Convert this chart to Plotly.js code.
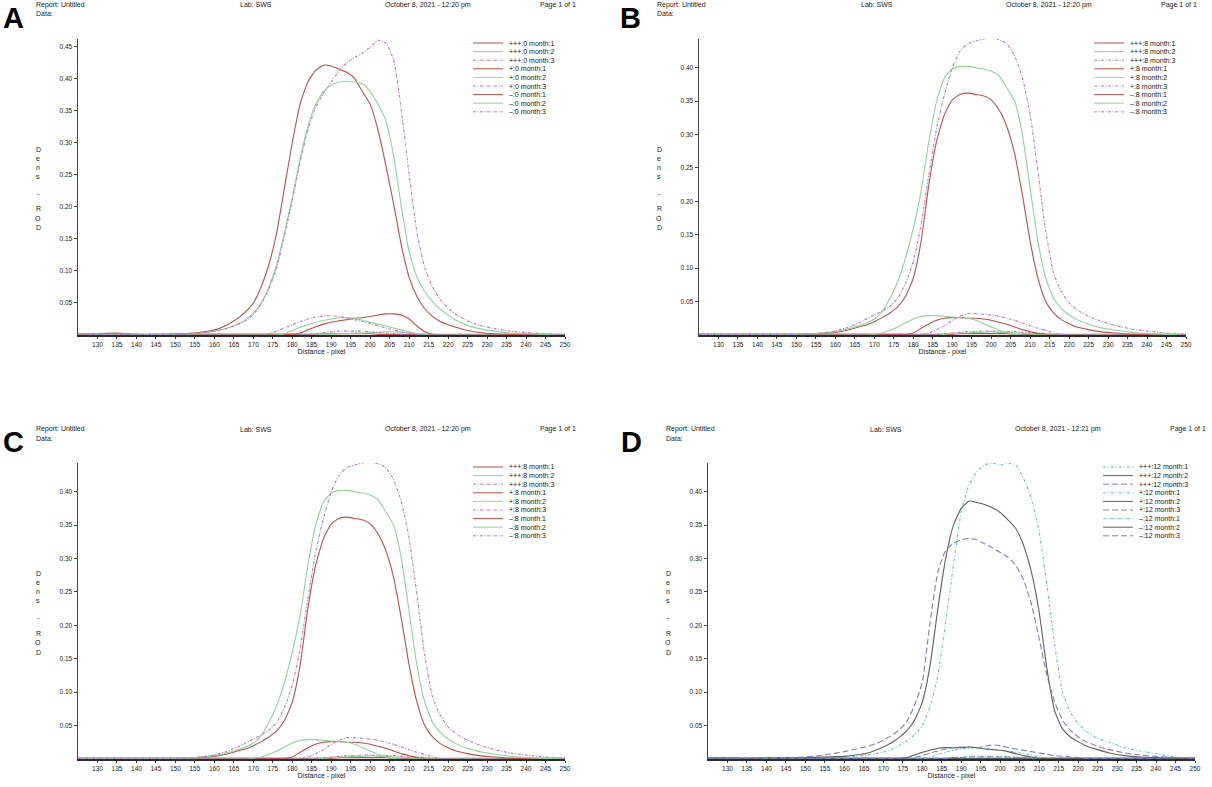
<!DOCTYPE html>
<html><head><meta charset="utf-8">
<script src="https://cdn.plot.ly/plotly-3.0.1.min.js"></script>
<style>html,body{margin:0;padding:0;background:#fff}#chart{width:1212px;height:787px}</style>
</head><body><div id="chart"></div>
<script>
// ---------------- DATA ----------------
const distance = [125,130,135,140,145,150,155,160,163,166,168,170,172,174,176,178,180,182,184,186,188,190,192,194,196,198,200,202,204,206,208,210,212,214,216,218,220,222,225,228,232,236,240,245,250];
const xTickVals = [130,135,140,145,150,155,160,165,170,175,180,185,190,195,200,205,210,215,220,225,230,235,240,245,250];
const yTicksA = [0.05,0.10,0.15,0.20,0.25,0.30,0.35,0.40,0.45];
const yTicksB = [0.05,0.10,0.15,0.20,0.25,0.30,0.35,0.40];
const panelLetters = ['A','B','C','D'];
const headerDates = ['October 8, 2021 - 12:20 pm','October 8, 2021 - 12:20 pm','October 8, 2021 - 12:20 pm','October 8, 2021 - 12:21 pm'];
const namesA = ['+++:0 month:1','+++:0 month:2','+++:0 month:3','+:0 month:1','+:0 month:2','+:0 month:3','–:0 month:1','–:0 month:2','–:0 month:3'];
const namesB = ['+++:8 month:1','+++:8 month:2','+++:8 month:3','+:8 month:1','+:8 month:2','+:8 month:3','–:8 month:1','–:8 month:2','–:8 month:3'];
const namesD = ['+++:12 month:1','+++:12 month:2','+++:12 month:3','+:12 month:1','+:12 month:2','+:12 month:3','–:12 month:1','–:12 month:2','–:12 month:3'];

// Panel A (0 month)
const A_pp1 = [0.001,0.002,0.003,0.001,0.001,0.002,0.003,0.008,0.015,0.026, 0.036,0.05,0.075,0.11,0.16,0.23,0.3,0.36,0.395,0.413, 0.421,0.42,0.415,0.41,0.4,0.38,0.36,0.32,0.265,0.205, 0.14,0.09,0.06,0.041,0.029,0.021,0.016,0.012,0.007,0.004, 0.002,0.001,0.001,0,0];
const A_pp2 = [0,0.001,0.001,0.001,0.001,0.001,0.002,0.006,0.01,0.017, 0.024,0.034,0.05,0.075,0.11,0.16,0.215,0.275,0.325,0.36, 0.38,0.39,0.395,0.396,0.395,0.392,0.38,0.36,0.335,0.28, 0.2,0.13,0.09,0.068,0.052,0.04,0.031,0.023,0.015,0.01, 0.006,0.003,0.002,0.001,0];
const A_pp3 = [0,0.001,0.001,0.001,0.001,0.001,0.002,0.006,0.01,0.016, 0.022,0.032,0.048,0.072,0.105,0.155,0.21,0.27,0.32,0.355, 0.377,0.395,0.412,0.425,0.433,0.44,0.449,0.46,0.456,0.43, 0.35,0.25,0.16,0.105,0.075,0.055,0.042,0.032,0.022,0.015, 0.01,0.006,0.004,0.002,0.001];
const A_p1 = [0.001,0.001,0.001,0.001,0.001,0.001,0.001,0.001,0.001,0.001, 0.001,0.001,0.001,0.001,0.001,0.001,0.001,0.003,0.008,0.013, 0.017,0.02,0.022,0.024,0.026,0.027,0.029,0.031,0.033,0.033, 0.031,0.025,0.014,0.005,0.001,0,0,0,0,0, 0,0,0,0,0];
const A_p2 = [0,0,0,0,0,0,0,0,0,0, 0,0,0,0,0,0.002,0.007,0.012,0.016,0.02, 0.023,0.025,0.027,0.027,0.026,0.023,0.02,0.017,0.014,0.011, 0.008,0.005,0.002,0.001,0,0,0,0,0,0, 0,0,0,0,0];
const A_p3 = [0,0,0,0,0,0,0,0,0,0, 0,0,0,0.002,0.006,0.011,0.016,0.021,0.025,0.028, 0.03,0.03,0.029,0.027,0.024,0.021,0.018,0.014,0.011,0.008, 0.005,0.003,0.001,0,0,0,0,0,0,0, 0,0,0,0,0];
const A_m1 = [0.001,0.001,0.002,0.001,0,0.001,0.001,0.001,0.001,0.001, 0.001,0.001,0.001,0.001,0.001,0.001,0.001,0.001,0.001,0.001, 0.002,0.002,0.002,0.002,0.002,0.002,0.002,0.001,0.001,0.001, 0.001,0.001,0.001,0.001,0.001,0.001,0.001,0.001,0.001,0.001, 0.001,0.001,0.001,0.001,0.001];
const A_m2 = [0,0,0,0,0,0,0,0,0,0, 0,0,0,0,0,0,0,0,0,0, 0.001,0.001,0.002,0.002,0.003,0.003,0.004,0.004,0.005,0.005, 0.004,0.003,0.002,0.001,0,0,0,0,0,0, 0,0,0,0,0];
const A_m3 = [0,0,0,0,0,0,0,0,0,0, 0,0,0,0,0,0,0,0,0.001,0.002, 0.004,0.005,0.006,0.006,0.006,0.006,0.005,0.004,0.003,0.002, 0.001,0,0,0,0,0,0,0,0,0, 0,0,0,0,0];

// Panels B and C (8 month)
const B_pp1 = [0.001,0.001,0.001,0.001,0.001,0.001,0.002,0.004,0.007,0.012, 0.015,0.02,0.026,0.033,0.042,0.058,0.085,0.14,0.225,0.29, 0.33,0.352,0.36,0.362,0.36,0.358,0.352,0.337,0.312,0.272, 0.21,0.14,0.085,0.05,0.033,0.023,0.017,0.012,0.008,0.005, 0.003,0.001,0.001,0,0];
const B_pp2 = [0.001,0.001,0.001,0.001,0.001,0.001,0.002,0.005,0.009,0.014, 0.018,0.024,0.035,0.055,0.08,0.115,0.16,0.215,0.29,0.35, 0.385,0.398,0.402,0.402,0.4,0.398,0.395,0.388,0.37,0.35, 0.3,0.22,0.14,0.085,0.055,0.04,0.03,0.023,0.016,0.011, 0.007,0.004,0.002,0.001,0];
const B_pp3 = [0.001,0.001,0.001,0.001,0.001,0.001,0.002,0.006,0.011,0.018, 0.024,0.03,0.036,0.043,0.055,0.077,0.11,0.165,0.24,0.31, 0.36,0.4,0.425,0.436,0.44,0.443,0.444,0.442,0.436,0.418, 0.385,0.33,0.245,0.155,0.093,0.065,0.048,0.038,0.028,0.021, 0.014,0.009,0.006,0.003,0.001];
const B_p1 = [0.001,0.001,0.001,0.001,0.001,0.001,0.001,0.001,0.001,0.001, 0.001,0.001,0.001,0.001,0.001,0.001,0.003,0.01,0.017,0.022, 0.025,0.026,0.026,0.025,0.025,0.024,0.022,0.019,0.016,0.012, 0.008,0.005,0.002,0.001,0,0,0,0,0,0, 0,0,0,0,0];
const B_p2 = [0,0,0,0,0,0,0,0,0,0, 0,0.001,0.003,0.007,0.012,0.018,0.024,0.028,0.029,0.029, 0.028,0.027,0.026,0.025,0.022,0.017,0.012,0.007,0.003,0.001, 0,0,0,0,0,0,0,0,0,0, 0,0,0,0,0];
const B_p3 = [0,0,0,0,0,0,0,0,0,0, 0,0,0,0,0,0,0,0.001,0.003,0.008, 0.014,0.022,0.028,0.032,0.032,0.031,0.03,0.028,0.025,0.022, 0.018,0.014,0.01,0.007,0.003,0.001,0,0,0,0, 0,0,0,0,0];
const B_m1 = [0.001,0.001,0.001,0.001,0.001,0.001,0.001,0.001,0.001,0.001, 0.001,0.001,0.001,0.001,0.001,0.001,0.001,0.001,0.001,0.001, 0.001,0.001,0.002,0.002,0.002,0.002,0.002,0.002,0.002,0.001, 0.001,0.001,0.001,0.001,0.001,0.001,0.001,0.001,0.001,0.001, 0.001,0.001,0.001,0.001,0.001];
const B_m2 = [0,0,0,0,0,0,0,0,0,0, 0,0,0,0,0,0,0,0,0,0, 0.001,0.002,0.003,0.003,0.004,0.004,0.005,0.004,0.004,0.003, 0.003,0.002,0.001,0,0,0,0,0,0,0, 0,0,0,0,0];
const B_m3 = [0,0,0,0,0,0,0,0,0,0, 0,0,0,0,0,0,0,0,0,0.001, 0.002,0.003,0.004,0.005,0.005,0.006,0.006,0.005,0.005,0.005, 0.004,0.003,0.003,0.002,0.001,0,0,0,0,0, 0,0,0,0,0];

// Panel D (12 month)
const D_pp1 = [0.001,0.001,0.001,0.001,0.002,0.002,0.002,0.003,0.004,0.006, 0.008,0.01,0.014,0.02,0.027,0.036,0.05,0.078,0.125,0.205, 0.29,0.37,0.41,0.43,0.44,0.443,0.44,0.443,0.44,0.42, 0.39,0.34,0.26,0.17,0.1,0.07,0.053,0.042,0.031,0.025, 0.017,0.012,0.008,0.003,0.001];
const D_pp2 = [0.001,0.002,0.001,0.002,0.002,0.002,0.003,0.004,0.006,0.009, 0.013,0.018,0.024,0.032,0.042,0.058,0.085,0.14,0.225,0.3, 0.35,0.375,0.386,0.384,0.381,0.376,0.369,0.358,0.345,0.32, 0.28,0.22,0.135,0.072,0.045,0.033,0.026,0.02,0.014,0.009, 0.005,0.003,0.002,0.001,0.001];
const D_pp3 = [0.001,0.002,0.001,0.002,0.002,0.003,0.006,0.011,0.015,0.019, 0.023,0.028,0.035,0.043,0.056,0.08,0.115,0.205,0.28,0.312, 0.323,0.328,0.33,0.328,0.322,0.316,0.309,0.302,0.29,0.268, 0.232,0.18,0.125,0.085,0.058,0.043,0.033,0.026,0.019,0.014, 0.009,0.006,0.004,0.002,0.001];
const D_p1 = [0,0,0,0,0,0,0,0,0,0, 0,0,0,0,0,0,0.001,0.003,0.007,0.01, 0.013,0.015,0.016,0.017,0.016,0.015,0.013,0.012,0.01,0.008, 0.006,0.003,0.001,0,0,0,0,0,0,0, 0,0,0,0,0];
const D_p2 = [0.001,0.001,0.001,0.001,0.001,0.001,0.001,0.001,0.001,0.001, 0.001,0.001,0.001,0.001,0.002,0.006,0.01,0.013,0.016,0.017, 0.017,0.017,0.018,0.017,0.015,0.014,0.013,0.011,0.008,0.005, 0.003,0.001,0.001,0.001,0.001,0.001,0.001,0.001,0.001,0.001, 0.001,0.001,0.001,0.001,0.001];
const D_p3 = [0.001,0.001,0.001,0.001,0.001,0.001,0.001,0.001,0.001,0.001, 0.001,0.001,0.001,0.001,0.001,0.002,0.005,0.009,0.012,0.015, 0.017,0.018,0.018,0.017,0.019,0.021,0.02,0.017,0.015,0.013, 0.011,0.009,0.007,0.005,0.004,0.003,0.002,0.001,0.001,0.001, 0.001,0.001,0.001,0.001,0.001];
const D_m1 = [0,0,0,0,0,0,0,0,0,0, 0,0,0,0,0,0,0,0,0,0.001, 0.002,0.003,0.004,0.004,0.004,0.004,0.004,0.003,0.003,0.002, 0.001,0,0,0,0,0,0,0,0,0, 0,0,0,0,0];
const D_m2 = [0.001,0.001,0.001,0.001,0.001,0.001,0.001,0.001,0.001,0.001, 0.001,0.001,0.001,0.001,0.001,0.001,0.001,0.001,0.001,0.001, 0.001,0.001,0.001,0.001,0.001,0.001,0.001,0.001,0.001,0.001, 0.001,0.001,0.001,0.001,0.001,0.001,0.001,0.001,0.001,0.001, 0.001,0.001,0.001,0.001,0.001];
const D_m3 = [0.001,0.001,0.001,0.001,0.001,0.001,0.001,0.001,0.001,0.001, 0.001,0.001,0.001,0.001,0.001,0.001,0.001,0.001,0.001,0.001, 0.002,0.002,0.003,0.003,0.003,0.003,0.003,0.003,0.002,0.002, 0.001,0.001,0.001,0.001,0.001,0.001,0.001,0.001,0.001,0.001, 0.001,0.001,0.001,0.001,0.001];

// ---------------- STYLE / LAYOUT ----------------
const W = 1212, H = 787;
const px = v => v / W;
const py = v => 1 - v / H;
const FONT = 'Liberation Sans, Arial, sans-serif';
const TXT = '#1a1a1a';

const stylesRGP = {
  colors: ['#b8504c','#8fd39b','#b67ac8'],
  dashes: ['solid','solid','3px,1.5px,1px,1.5px']
};
const stylesD = {
  colors: ['#66c3bd','#5f5f5f','#7a7ec4'],
  dashes: ['3px,2px,1px,2px','solid','6px,3px']
};

const panels = [
  {dx:0,   dy:0,   letterX:1,   ymax:0.462, yt:yTicksA, names:namesA, data:[A_pp1,A_pp2,A_pp3,A_p1,A_p2,A_p3,A_m1,A_m2,A_m3], st:stylesRGP},
  {dx:621, dy:0,   letterX:618, ymax:0.443, yt:yTicksB, names:namesB, data:[B_pp1,B_pp2,B_pp3,B_p1,B_p2,B_p3,B_m1,B_m2,B_m3], st:stylesRGP},
  {dx:0,   dy:424, letterX:1,   ymax:0.443, yt:yTicksB, names:namesB, data:[B_pp1,B_pp2,B_pp3,B_p1,B_p2,B_p3,B_m1,B_m2,B_m3], st:stylesRGP},
  {dx:630, dy:424, letterX:619, ymax:0.443, yt:yTicksB, names:namesD, data:[D_pp1,D_pp2,D_pp3,D_p1,D_p2,D_p3,D_m1,D_m2,D_m3], st:stylesD}
];
const G = {L:78, R:565, T:39, B:335};

const traces = [];
const layout = {
  width: W, height: H,
  margin: {l:0, r:0, t:0, b:0},
  paper_bgcolor: '#fff', plot_bgcolor: '#fff',
  showlegend: false,
  font: {family: FONT, color: TXT},
  annotations: [], shapes: []
};

const denseLetters = ['D','e','n','s','-','R','O','D'];
const denseOffsets = [110,119,128,137,154,170,179,189];

panels.forEach((p, i) => {
  const n = i === 0 ? '' : String(i + 1);
  const xr = 'x' + n, yr = 'y' + n;
  layout['xaxis' + n] = {
    domain: [px(G.L + p.dx), px(G.R + p.dx)],
    anchor: yr,
    range: [125, 250],
    tickvals: xTickVals,
    ticktext: xTickVals.map(String),
    tickfont: {size: 6.5, family: FONT, color: TXT},
    ticks: 'outside', ticklen: 2, tickcolor: '#333',
    showline: true, linecolor: '#2a2a2a', linewidth: 2,
    showgrid: false, zeroline: false, fixedrange: true,
    title: {text: 'Distance - pixel', font: {size: 7, family: FONT, color: TXT}, standoff: 2}
  };
  layout['yaxis' + n] = {
    domain: [py(G.B + p.dy), py(G.T + p.dy)],
    anchor: xr,
    range: [0, p.ymax],
    tickvals: p.yt,
    ticktext: p.yt.map(v => v.toFixed(2)),
    tickfont: {size: 6.5, family: FONT, color: TXT},
    ticks: 'outside', ticklen: 3, tickcolor: '#444',
    showline: true, linecolor: '#444', linewidth: 1.5,
    showgrid: false, zeroline: false, fixedrange: true
  };

  // curves: tiny first, big last
  const order = [6,7,8,3,4,5,0,1,2];
  order.forEach(k => {
    const m = k % 3;
    traces.push({
      x: distance, y: p.data[k], xaxis: xr, yaxis: yr,
      type: 'scatter', mode: 'lines', name: p.names[k],
      line: {color: p.st.colors[m], width: 1.1, dash: p.st.dashes[m], shape: 'spline', smoothing: 0.5},
      hoverinfo: 'skip', showlegend: false
    });
  });

  // legend (manual, compact)
  p.names.forEach((nm, r) => {
    const m = r % 3;
    const yy = 43 + r * 8.6 + p.dy;
    layout.shapes.push({type: 'line', xref: 'paper', yref: 'paper',
      x0: px(473 + p.dx), x1: px(503 + p.dx), y0: py(yy), y1: py(yy),
      line: {color: p.st.colors[m], width: 1, dash: p.st.dashes[m]}});
    layout.annotations.push({xref: 'paper', yref: 'paper', x: px(507 + p.dx), y: py(yy),
      xanchor: 'left', yanchor: 'middle', showarrow: false, text: nm,
      font: {size: 7, family: FONT, color: TXT}});
  });

  // page header
  const hdr = [
    [34, 5, 'Report: Untitled'], [34, 14, 'Data:'], [238, 5, 'Lab: SWS'],
    [383, 5, headerDates[i]], [538, 5, 'Page 1 of 1']
  ];
  hdr.forEach(h => layout.annotations.push({xref: 'paper', yref: 'paper',
    x: px(h[0] + p.dx), y: py(h[1] + p.dy), xanchor: 'left', yanchor: 'middle',
    showarrow: false, text: h[2], font: {size: 7, family: FONT, color: TXT}}));

  // panel letter
  layout.annotations.push({xref: 'paper', yref: 'paper', x: px(p.letterX), y: py(18 + p.dy),
    xanchor: 'left', yanchor: 'middle', showarrow: false, text: '<b>' + panelLetters[i] + '</b>',
    font: {size: 29, family: FONT, color: '#000'}});

  // stacked y-axis title "Dens - ROD"
  denseLetters.forEach((ch, j) => layout.annotations.push({xref: 'paper', yref: 'paper',
    x: px(38 + p.dx), y: py(G.T + denseOffsets[j] + p.dy), xanchor: 'center', yanchor: 'middle',
    showarrow: false, text: ch, font: {size: 7, family: FONT, color: TXT}}));
});

Plotly.newPlot('chart', traces, layout, {staticPlot: true, displayModeBar: false});
</script>
</body></html>
